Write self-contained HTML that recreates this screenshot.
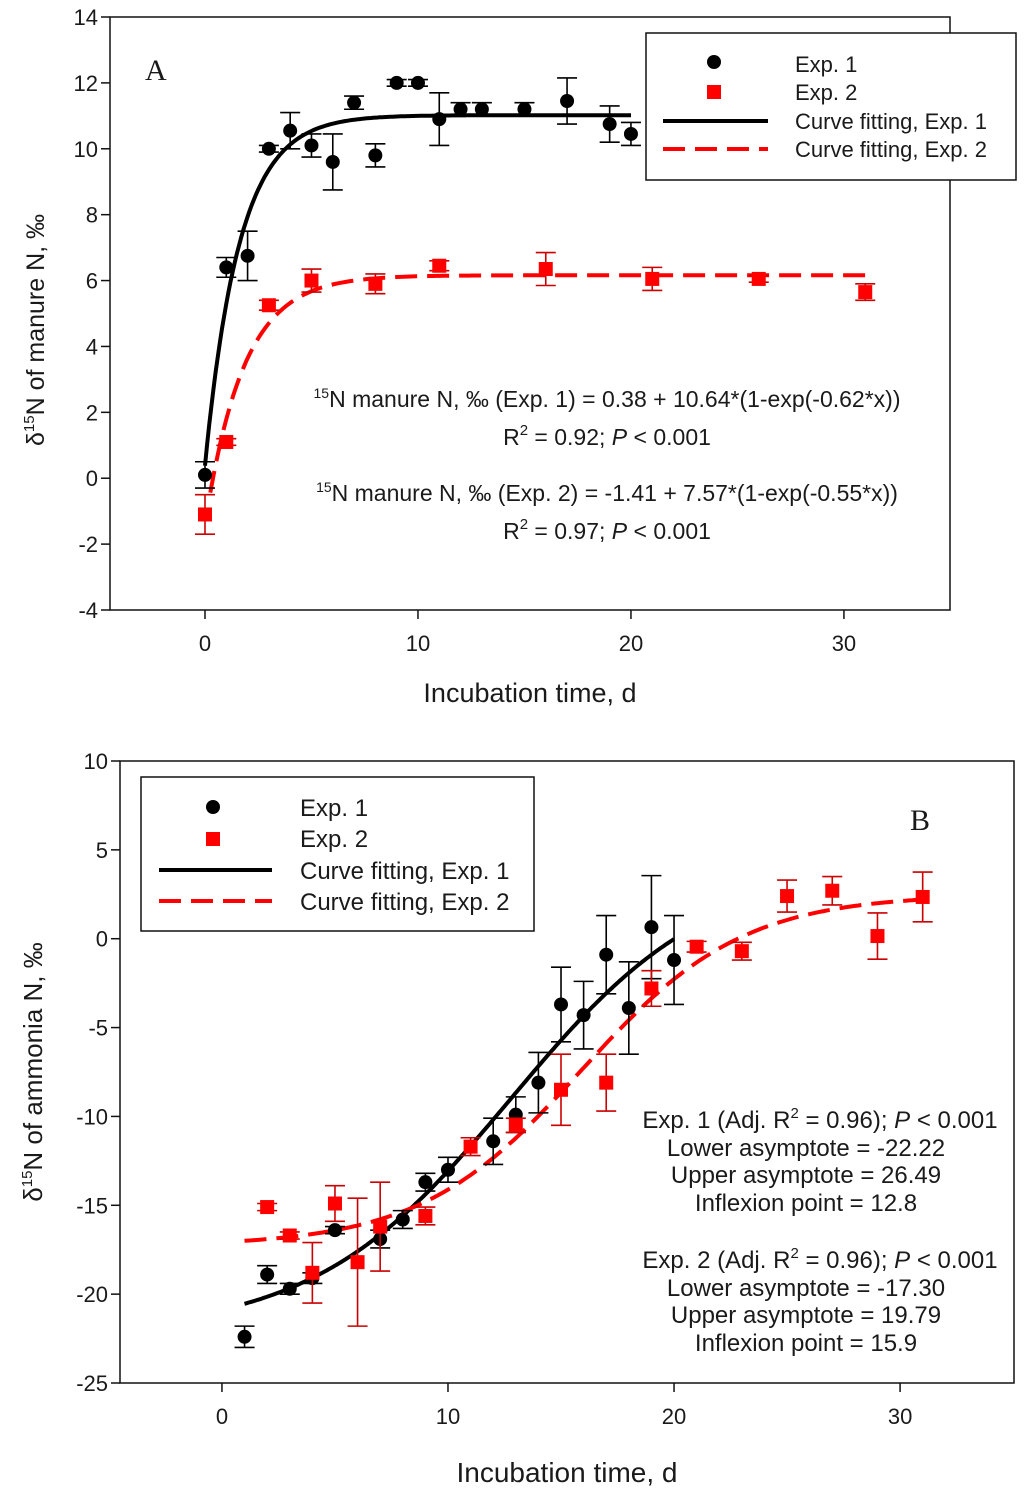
<!DOCTYPE html>
<html><head><meta charset="utf-8"><style>
html,body{margin:0;padding:0;background:#fff;}
svg{display:block;font-family:"Liberation Sans",Arial,sans-serif;}
text{fill:#1a1a1a;}
</style></head><body>
<svg id="svg" width="1024" height="1493" viewBox="0 0 1024 1493" xmlns="http://www.w3.org/2000/svg">
<g id="pa"></g>
<g id="pb"></g>
</svg>
<script>
// ---------- Panel A data ----------
const aExp1X = [0,1,2,3,4,5,6,7,8,9,10,11,12,13,15,17,19,20];
const aExp1Y = [0.1,6.4,6.75,10.0,10.55,10.1,9.6,11.4,9.8,12.0,12.0,10.9,11.2,11.2,11.2,11.45,10.75,10.45];
const aExp1E = [0.4,0.3,0.75,0.1,0.55,0.35,0.85,0.2,0.35,0.1,0.1,0.8,0.2,0.2,0.2,0.7,0.55,0.35];
const aExp2X = [0,1,3,5,8,11,16,21,26,31];
const aExp2Y = [-1.1,1.1,5.25,6.0,5.9,6.45,6.35,6.05,6.05,5.65];
const aExp2E = [0.6,0.1,0.15,0.35,0.3,0.15,0.5,0.35,0.1,0.25];
const aFit1 = [0.38,10.64,0.62];
const aFit2 = [-1.41,7.57,0.55];
const aXTicks = [0,10,20,30];
const aYTicks = [-4,-2,0,2,4,6,8,10,12,14];
// ---------- Panel B data ----------
const bExp1X = [1,2,3,4,5,7,8,9,10,12,13,14,15,16,17,18,19,20];
const bExp1Y = [-22.4,-18.9,-19.7,-19.1,-16.4,-16.9,-15.8,-13.7,-13.0,-11.4,-9.9,-8.1,-3.7,-4.3,-0.9,-3.9,0.65,-1.2];
const bExp1E = [0.6,0.5,0.3,0.3,0.2,0.5,0.5,0.5,0.7,1.3,1.0,1.7,2.1,1.9,2.2,2.6,2.9,2.5];
const bExp2X = [2,3,4,5,6,7,9,11,13,15,17,19,21,23,25,27,29,31];
const bExp2Y = [-15.1,-16.7,-18.8,-14.9,-18.2,-16.2,-15.6,-11.7,-10.5,-8.5,-8.1,-2.8,-0.45,-0.7,2.4,2.7,0.15,2.35];
const bExp2E = [0.2,0.2,1.7,1.0,3.6,2.5,0.5,0.5,0.4,2.0,1.6,1.0,0.3,0.5,0.9,0.8,1.3,1.4];
const bFit1 = [-22.22,26.49,12.8,4.38];
const bFit2 = [-17.30,19.79,15.9,3.57];
const bXTicks = [0,10,20,30];
const bYTicks = [-25,-20,-15,-10,-5,0,5,10];

const NS="http://www.w3.org/2000/svg";
function mk(parent,tag,attrs,txt){const e=document.createElementNS(NS,tag);for(const k in attrs)e.setAttribute(k,attrs[k]);if(txt!==undefined)e.textContent=txt;parent.appendChild(e);return e;}

function panel(g,cfg){
  const X=v=>cfg.x0+(v-cfg.xmin)/(cfg.xmax-cfg.xmin)*(cfg.x1-cfg.x0);
  const Y=v=>cfg.y1-(v-cfg.ymin)/(cfg.ymax-cfg.ymin)*(cfg.y1-cfg.y0);
  const fr=mk(g,'rect',{x:cfg.x0,y:cfg.y0,width:cfg.x1-cfg.x0,height:cfg.y1-cfg.y0,fill:'none',stroke:'#111','stroke-width':1.5});
  
  
  cfg.xt.forEach(t=>{
    const l=mk(g,'line',{x1:X(t),x2:X(t),y1:cfg.y1,y2:cfg.y1+9,stroke:'#111','stroke-width':1.5});
    
    
    const tx=mk(g,'text',{x:X(t),y:cfg.y1+41,'text-anchor':'middle','font-size':22},String(t));
    
    
  });
  cfg.yt.forEach(t=>{
    const l=mk(g,'line',{x1:cfg.x0-9,x2:cfg.x0,y1:Y(t),y2:Y(t),stroke:'#111','stroke-width':1.5});
    
    
    const tx=mk(g,'text',{x:cfg.x0-12,y:Y(t)+8,'text-anchor':'end','font-size':22},String(t));
    
    
  });
  function curve(f,xa,xb,color,dash,name){
    let d='';for(let i=0;i<=200;i++){const x=xa+(xb-xa)*i/200;d+=(i?'L':'M')+X(x).toFixed(1)+','+Y(f(x)).toFixed(1);}
    const p=mk(g,'path',{d:d,fill:'none',stroke:color,'stroke-width':4,'stroke-dasharray':dash||'none'});
    
    
  }
  curve(cfg.f1,cfg.c1[0],cfg.c1[1],'#000',null,'fit-curve-exp1');
  curve(cfg.f2,cfg.c2[0],cfg.c2[1],'#f00','22,10','fit-curve-exp2');
  function series(xs,ys,es,color,sq,name){
    xs.forEach((x,i)=>{
      const cx=X(x),cy=Y(ys[i]),t=Y(ys[i]+es[i]),b=Y(ys[i]-es[i]);
      const eb=mk(g,'path',{d:`M${cx},${t}V${b}M${cx-10},${t}H${cx+10}M${cx-10},${b}H${cx+10}`,stroke:sq?'#c00':'#000','stroke-width':1.6,fill:'none'});
      
      
      let m;
      if(sq)m=mk(g,'rect',{x:cx-7,y:cy-7,width:14,height:14,fill:color});
      else m=mk(g,'circle',{cx:cx,cy:cy,r:7,fill:color});
      
      
    });
  }
  series(cfg.s1[0],cfg.s1[1],cfg.s1[2],'#000',false,'point-exp1');
  series(cfg.s2[0],cfg.s2[1],cfg.s2[2],'#f00',true,'point-exp2');
}
panel(document.getElementById('pa'),{x0:110,x1:950,y0:17,y1:610,xmin:-4.46,xmax:34.98,ymin:-4,ymax:14,xt:aXTicks,yt:aYTicks,
  f1:x=>aFit1[0]+aFit1[1]*(1-Math.exp(-aFit1[2]*x)),f2:x=>aFit2[0]+aFit2[1]*(1-Math.exp(-aFit2[2]*x)),c1:[0,20],c2:[0.25,31],
  s1:[aExp1X,aExp1Y,aExp1E],s2:[aExp2X,aExp2Y,aExp2E]});
panel(document.getElementById('pb'),{x0:120,x1:1014,y0:761,y1:1383,xmin:-4.51,xmax:35.04,ymin:-25,ymax:10,xt:bXTicks,yt:bYTicks,
  f1:x=>bFit1[0]+bFit1[1]/(1+Math.exp(-(x-bFit1[2])/bFit1[3])),f2:x=>bFit2[0]+bFit2[1]/(1+Math.exp(-(x-bFit2[2])/bFit2[3])),c1:[1,20],c2:[1,31],
  s1:[bExp1X,bExp1Y,bExp1E],s2:[bExp2X,bExp2Y,bExp2E]});
</script>
<svg style="position:absolute;left:0;top:0" width="1024" height="1493" font-family="Liberation Sans, Arial, sans-serif">
  <text x="145" y="80" font-family="Liberation Serif, serif" font-size="30" fill="#111">A</text>
  <text x="910" y="830" font-family="Liberation Serif, serif" font-size="30" fill="#111">B</text>
  <g>
    <rect x="646" y="33" width="370" height="147" fill="#fff" stroke="#111" stroke-width="1.5"/>
    <circle cx="714" cy="62" r="7" fill="#000"/>
    <rect x="707" y="85" width="14" height="14" fill="#f00"/>
    <line x1="663" x2="768" y1="121" y2="121" stroke="#000" stroke-width="4"/>
    <line x1="663" x2="768" y1="149" y2="149" stroke="#f00" stroke-width="4" stroke-dasharray="22,10"/>
    <text x="795" y="72" font-size="22" fill="#1a1a1a">Exp. 1</text>
    <text x="795" y="100" font-size="22" fill="#1a1a1a">Exp. 2</text>
    <text x="795" y="129" font-size="22" fill="#1a1a1a">Curve fitting, Exp. 1</text>
    <text x="795" y="157" font-size="22" fill="#1a1a1a">Curve fitting, Exp. 2</text>
  </g>
  <g>
    <rect x="141" y="777" width="393" height="154" fill="#fff" stroke="#111" stroke-width="1.5"/>
    <circle cx="213" cy="807" r="7" fill="#000"/>
    <rect x="206" y="832" width="14" height="14" fill="#f00"/>
    <line x1="159" x2="272" y1="870" y2="870" stroke="#000" stroke-width="4"/>
    <line x1="159" x2="272" y1="901" y2="901" stroke="#f00" stroke-width="4" stroke-dasharray="22,10"/>
    <text x="300" y="816" font-size="24" fill="#1a1a1a">Exp. 1</text>
    <text x="300" y="847" font-size="24" fill="#1a1a1a">Exp. 2</text>
    <text x="300" y="879" font-size="24" fill="#1a1a1a">Curve fitting, Exp. 1</text>
    <text x="300" y="910" font-size="24" fill="#1a1a1a">Curve fitting, Exp. 2</text>
  </g>
  <g font-size="23" fill="#1a1a1a" text-anchor="middle">
    <text x="607" y="407"><tspan font-size="14" dy="-9">15</tspan><tspan dy="9">N manure N, ‰ (Exp. 1) = 0.38 + 10.64*(1-exp(-0.62*x))</tspan></text>
    <text x="607" y="445">R<tspan font-size="15" dy="-10">2</tspan><tspan dy="10"> = 0.92; </tspan><tspan font-style="italic">P</tspan> &lt; 0.001</text>
    <text x="607" y="501"><tspan font-size="14" dy="-9">15</tspan><tspan dy="9">N manure N, ‰ (Exp. 2) = -1.41 + 7.57*(1-exp(-0.55*x))</tspan></text>
    <text x="607" y="539">R<tspan font-size="15" dy="-10">2</tspan><tspan dy="10"> = 0.97; </tspan><tspan font-style="italic">P</tspan> &lt; 0.001</text>
  </g>
  <g font-size="24" fill="#1a1a1a" text-anchor="middle">
    <text x="820" y="1128">Exp. 1 (Adj. R<tspan font-size="15" dy="-10">2</tspan><tspan dy="10"> = 0.96); </tspan><tspan font-style="italic">P</tspan> &lt; 0.001</text>
    <text x="806" y="1156">Lower asymptote = -22.22</text>
    <text x="806" y="1183">Upper asymptote = 26.49</text>
    <text x="806" y="1211">Inflexion point = 12.8</text>
    <text x="820" y="1268">Exp. 2 (Adj. R<tspan font-size="15" dy="-10">2</tspan><tspan dy="10"> = 0.96); </tspan><tspan font-style="italic">P</tspan> &lt; 0.001</text>
    <text x="806" y="1296">Lower asymptote = -17.30</text>
    <text x="806" y="1323">Upper asymptote = 19.79</text>
    <text x="806" y="1351">Inflexion point = 15.9</text>
  </g>
  <text x="530" y="702" font-size="27" fill="#1a1a1a" text-anchor="middle">Incubation time, d</text>
  <text x="567" y="1482" font-size="28" fill="#1a1a1a" text-anchor="middle">Incubation time, d</text>
  <text transform="translate(44,330) rotate(-90)" font-size="25" fill="#1a1a1a" text-anchor="middle">δ<tspan font-size="15" dy="-10">15</tspan><tspan dy="10">N of manure N, ‰</tspan></text>
  <text transform="translate(42,1072) rotate(-90)" font-size="26" fill="#1a1a1a" text-anchor="middle">δ<tspan font-size="15" dy="-10">15</tspan><tspan dy="10">N of ammonia N, ‰</tspan></text>
</svg>
</body></html>
